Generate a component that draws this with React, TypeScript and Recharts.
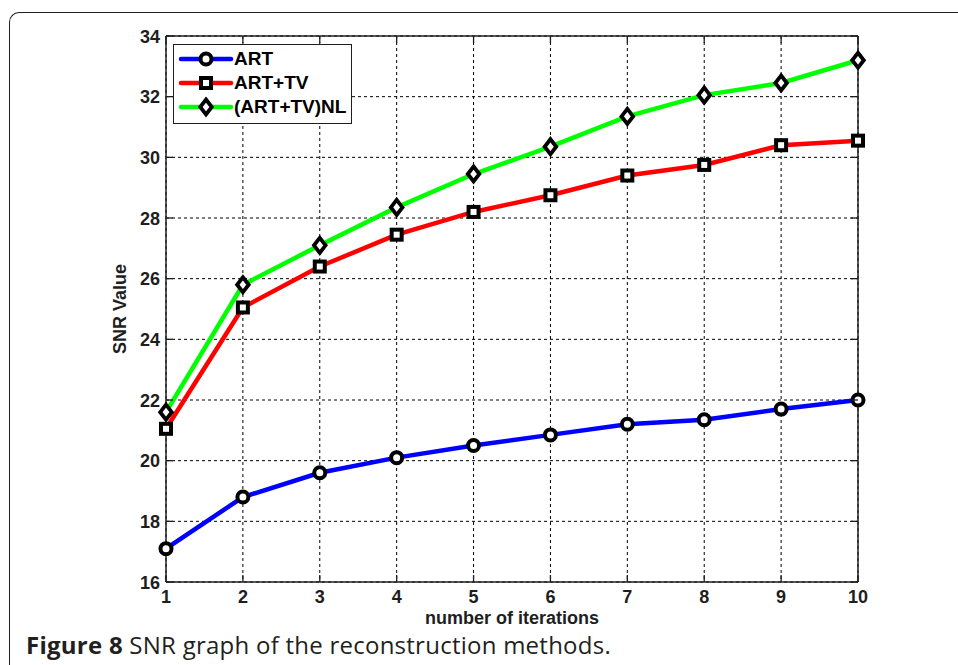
import React from 'react';
import { LineChart, Line, XAxis, YAxis, CartesianGrid, ReferenceLine, Legend } from 'recharts';

const iterations = [1, 2, 3, 4, 5, 6, 7, 8, 9, 10];
const artValues = [17.1, 18.8, 19.6, 20.1, 20.5, 20.85, 21.2, 21.35, 21.7, 22.0];
const artTvValues = [21.05, 25.05, 26.4, 27.45, 28.2, 28.75, 29.4, 29.75, 30.4, 30.55];
const nlValues = [21.6, 25.8, 27.1, 28.35, 29.45, 30.35, 31.35, 32.05, 32.45, 33.2];
const yTicks = [16, 18, 20, 22, 24, 26, 28, 30, 32, 34];
const seriesNames = ['ART', 'ART+TV', '(ART+TV)NL'];
const seriesKeys = ['art', 'artTv', 'nl'];
const seriesColors = ['#0000ff', '#ff0000', '#00ff00'];
const xLabel = 'number of iterations';
const yLabel = 'SNR Value';
const captionBold = 'Figure 8';
const captionText = ' SNR graph of the reconstruction methods.';

const data = iterations.map((x, i) => ({ x, art: artValues[i], artTv: artTvValues[i], nl: nlValues[i] }));

const PLOT = { left: 166, top: 36, right: 858, bottom: 582 };
const FONT = '"Liberation Sans", Arial, sans-serif';
const INK = '#1e1e1e';
const TICK = 7;

function CircleMark({ cx, cy }: any) {
  return <circle cx={cx} cy={cy} r={5.5} fill="#fff" stroke="#000" strokeWidth={4} />;
}
function SquareMark({ cx, cy }: any) {
  return <rect x={cx - 5} y={cy - 5} width={10} height={10} fill="#fff" stroke="#000" strokeWidth={4} />;
}
function DiamondMark({ cx, cy }: any) {
  const h = 7.5;
  const w = 5.8;
  return (
    <path
      d={`M${cx},${cy - h} L${cx + w},${cy} L${cx},${cy + h} L${cx - w},${cy} Z`}
      fill="#fff"
      stroke="#000"
      strokeWidth={3.8}
      strokeLinejoin="miter"
    />
  );
}
const markers = [CircleMark, SquareMark, DiamondMark];

function XTick({ x, y, payload }: any) {
  return (
    <g>
      <line x1={x} x2={x} y1={PLOT.bottom} y2={PLOT.bottom - TICK} stroke={INK} strokeWidth={1.3} />
      <line x1={x} x2={x} y1={PLOT.top} y2={PLOT.top + TICK} stroke={INK} strokeWidth={1.3} />
      <text x={x} y={y + 21} textAnchor="middle" fontFamily={FONT} fontSize={18} fontWeight="bold" fill={INK}>
        {payload.value}
      </text>
    </g>
  );
}

function YTick({ x, y, payload }: any) {
  return (
    <g>
      <line x1={PLOT.left} x2={PLOT.left + TICK} y1={y} y2={y} stroke={INK} strokeWidth={1.3} />
      <line x1={PLOT.right} x2={PLOT.right - TICK} y1={y} y2={y} stroke={INK} strokeWidth={1.3} />
      <text x={x - 6} y={y + 6.5} textAnchor="end" fontFamily={FONT} fontSize={18} fontWeight="bold" fill={INK}>
        {payload.value}
      </text>
    </g>
  );
}

function YLabel({ viewBox }: any) {
  const cx = viewBox.x + 14;
  const cy = viewBox.y + viewBox.height / 2;
  return (
    <text
      x={cx}
      y={cy}
      transform={`rotate(-90 ${cx} ${cy})`}
      textAnchor="middle"
      dominantBaseline="central"
      fontFamily={FONT}
      fontSize={18}
      fontWeight="bold"
      fill={INK}
    >
      {yLabel}
    </text>
  );
}

function XLabel({ viewBox }: any) {
  const cx = viewBox.x + viewBox.width / 2;
  const cy = viewBox.y + 42;
  return (
    <text x={cx} y={cy} textAnchor="middle" fontFamily={FONT} fontSize={18} fontWeight="bold" fill={INK}>
      {xLabel}
    </text>
  );
}

function LegendBox() {
  return (
    <div
      style={{
        boxSizing: 'border-box',
        width: 179,
        height: 80,
        border: `1.5px solid ${INK}`,
        background: '#fff',
        paddingTop: 2,
      }}
    >
      {seriesNames.map((name, i) => {
        const M = markers[i];
        return (
          <div key={name} style={{ display: 'flex', alignItems: 'center', height: 24 }}>
            <svg width={60} height={24} style={{ display: 'block' }}>
              <line x1={7} x2={57} y1={12} y2={12} stroke={seriesColors[i]} strokeWidth={4.5} strokeLinecap="round" />
              <M cx={32} cy={12} />
            </svg>
            <span style={{ fontFamily: FONT, fontSize: 19, fontWeight: 'bold', color: '#000', lineHeight: '24px' }}>
              {name}
            </span>
          </div>
        );
      })}
    </div>
  );
}

export default function App() {
  return (
    <div style={{ position: 'absolute', left: 0, top: 0, width: 958, height: 665, background: '#fff', overflow: 'hidden' }}>
      <div
        style={{
          position: 'absolute',
          left: 9,
          top: 12,
          width: 1100,
          height: 800,
          borderTop: '1.6px solid #231f20',
          borderLeft: '1.6px solid #231f20',
          borderTopLeftRadius: 10,
          boxSizing: 'border-box',
        }}
      />
      <div style={{ position: 'absolute', left: 0, top: 0 }}>
        <LineChart width={958} height={665} data={data} margin={{ top: 36, right: 100, bottom: 53, left: 106 }}>
          <CartesianGrid stroke="#000" strokeDasharray="3 3" strokeWidth={1} />
          <XAxis
            dataKey="x"
            type="number"
            domain={[1, 10]}
            ticks={iterations}
            height={30}
            tickSize={0}
            tickMargin={0}
            tickLine={false}
            axisLine={{ stroke: INK, strokeWidth: 1.5 }}
            tick={<XTick />}
            label={<XLabel />}
            interval={0}
          />
          <YAxis
            type="number"
            domain={[16, 34]}
            ticks={yTicks}
            width={60}
            tickSize={0}
            tickMargin={0}
            tickLine={false}
            axisLine={{ stroke: INK, strokeWidth: 1.5 }}
            tick={<YTick />}
            label={<YLabel />}
            interval={0}
          />
          <ReferenceLine y={34} stroke={INK} strokeWidth={1.5} />
          <ReferenceLine x={10} stroke={INK} strokeWidth={1.5} />
          {seriesKeys.map((k, i) => {
            const M = markers[i];
            return (
              <Line
                key={k}
                dataKey={k}
                name={seriesNames[i]}
                stroke={seriesColors[i]}
                strokeWidth={4.5}
                isAnimationActive={false}
                dot={(p: any) => <M key={`${k}-${p.index}`} cx={p.cx} cy={p.cy} />}
                activeDot={false}
              />
            );
          })}
          <Legend
            layout="vertical"
            align="center"
            verticalAlign="middle"
            wrapperStyle={{ left: 173, top: 44, width: 179, height: 80 }}
            content={() => <LegendBox />}
          />
        </LineChart>
      </div>
      <div
        style={{
          position: 'absolute',
          left: 26,
          top: 633,
          fontFamily: '"Open Sans", "Noto Sans", sans-serif',
          fontSize: 24,
          lineHeight: '24px',
          letterSpacing: 0.25,
          color: '#231f20',
          whiteSpace: 'nowrap',
        }}
      >
        <span style={{ fontWeight: 'bold' }}>{captionBold}</span>
        {captionText}
      </div>
    </div>
  );
}
